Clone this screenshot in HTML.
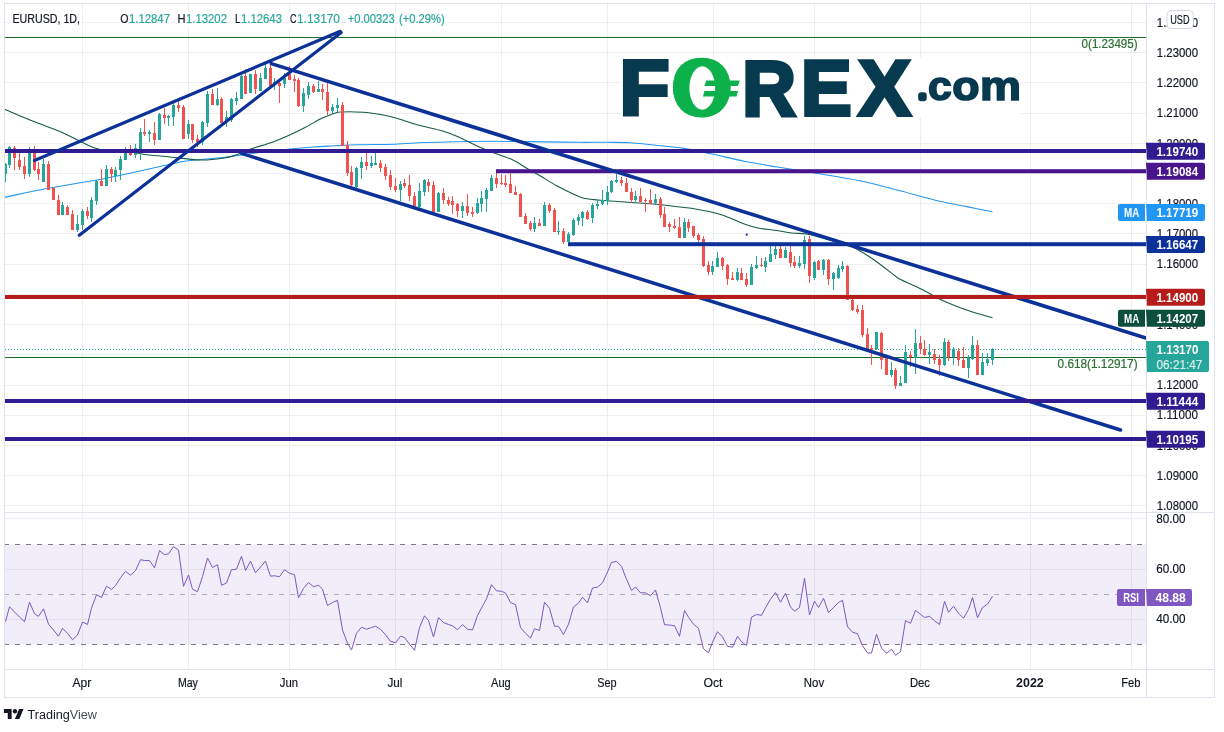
<!DOCTYPE html>
<html lang="en"><head><meta charset="utf-8"><title>EURUSD 1D chart</title>
<style>html,body{margin:0;padding:0;background:#fff;}body{width:1224px;height:732px;overflow:hidden;font-family:"Liberation Sans", sans-serif;}svg{display:block}</style>
</head><body>
<svg width="1224" height="732" viewBox="0 0 1224 732" font-family='"Liberation Sans", sans-serif' shape-rendering="auto">
<rect width="1224" height="732" fill="#fff"/>
<path d="M82.5 4V669 M188.5 4V669 M289.5 4V669 M395.5 4V669 M501.5 4V669 M607.5 4V669 M713.5 4V669 M814.5 4V669 M920.5 4V669 M1030.5 4V669 M1131.5 4V669 M4.5 22.5H1146 M4.5 52.5H1146 M4.5 82.5H1146 M4.5 113.5H1146 M4.5 143.5H1146 M4.5 173.5H1146 M4.5 203.5H1146 M4.5 233.5H1146 M4.5 264.5H1146 M4.5 294.5H1146 M4.5 324.5H1146 M4.5 354.5H1146 M4.5 385.5H1146 M4.5 415.5H1146 M4.5 445.5H1146 M4.5 475.5H1146 M4.5 505.5H1146 M4.5 518.5H1146 M4.5 569.5H1146 M4.5 619.5H1146" stroke="#eeeef1" stroke-width="1" fill="none" shape-rendering="crispEdges"/>
<rect x="4.5" y="544.5" width="1142" height="100" fill="#7e57c2" fill-opacity="0.1"/>
<path d="M4.2 544.5H1146M4.2 644.5H1146" stroke="#787b86" stroke-width="1" stroke-dasharray="5 6" fill="none" shape-rendering="crispEdges"/>
<path d="M4.2 594.5H1146" stroke="#787b86" stroke-opacity="0.55" stroke-width="1" stroke-dasharray="5 6" fill="none" shape-rendering="crispEdges"/>
<polyline points="5.5,621.7 9.5,606.7 14.5,612.0 19.5,617.0 24.5,621.7 29.5,602.2 34.5,613.7 38.5,616.3 43.5,608.8 48.5,624.2 53.5,630.0 58.5,636.2 62.5,628.3 67.5,633.3 72.5,639.7 77.5,635.0 82.5,622.0 87.5,624.5 91.5,608.3 96.5,594.7 101.5,597.5 106.5,586.2 111.5,589.5 115.5,585.5 120.5,577.8 125.5,571.3 130.5,575.3 135.5,570.5 140.5,559.7 144.5,560.5 149.5,560.5 154.5,567.8 159.5,550.5 164.5,554.7 168.5,553.8 173.5,546.7 178.5,550.0 183.5,586.3 188.5,575.0 192.5,589.2 197.5,591.7 202.5,576.7 207.5,558.0 212.5,567.5 217.5,564.7 221.5,585.3 226.5,583.0 231.5,569.7 236.5,569.2 241.5,556.2 245.5,570.5 250.5,561.2 255.5,572.8 260.5,567.0 265.5,561.2 270.5,576.2 274.5,575.8 279.5,576.7 284.5,569.7 289.5,573.3 294.5,574.7 298.5,597.8 303.5,588.3 308.5,582.5 313.5,586.7 318.5,585.3 322.5,589.2 327.5,605.5 332.5,602.5 337.5,600.3 342.5,630.0 347.5,643.3 351.5,650.0 356.5,633.3 361.5,627.2 366.5,629.2 371.5,627.5 375.5,626.2 380.5,629.2 385.5,634.7 390.5,641.3 395.5,642.8 400.5,636.2 404.5,637.5 409.5,644.2 414.5,650.3 419.5,627.5 424.5,615.8 428.5,620.5 433.5,637.0 438.5,617.5 443.5,622.5 448.5,624.5 452.5,625.8 457.5,629.7 462.5,624.7 467.5,629.2 472.5,630.0 477.5,615.5 481.5,608.0 486.5,598.8 491.5,584.7 496.5,590.8 501.5,591.3 505.5,593.0 510.5,602.5 515.5,604.7 520.5,627.5 525.5,633.3 530.5,638.0 534.5,628.8 539.5,630.5 544.5,602.2 549.5,608.3 554.5,626.2 558.5,626.3 563.5,634.5 568.5,624.2 573.5,607.0 578.5,603.0 582.5,597.2 587.5,602.8 592.5,588.0 597.5,587.2 602.5,582.8 607.5,572.0 611.5,562.5 616.5,561.3 621.5,566.3 626.5,579.2 631.5,590.5 635.5,587.0 640.5,592.8 645.5,592.8 650.5,595.8 655.5,590.0 660.5,607.8 664.5,624.7 669.5,625.0 674.5,625.8 679.5,636.3 684.5,610.5 688.5,617.2 693.5,624.2 698.5,628.3 703.5,648.8 708.5,652.8 712.5,642.2 717.5,631.7 722.5,637.0 727.5,646.3 732.5,647.2 737.5,636.3 741.5,641.7 746.5,645.5 751.5,617.2 756.5,614.5 761.5,615.3 765.5,607.8 770.5,599.2 775.5,592.5 780.5,602.2 785.5,593.3 790.5,607.0 794.5,611.2 799.5,607.5 804.5,578.3 809.5,615.0 814.5,601.2 818.5,607.5 823.5,598.3 828.5,612.5 833.5,607.5 838.5,602.5 842.5,600.3 847.5,626.7 852.5,632.2 857.5,633.7 862.5,645.8 867.5,653.0 871.5,653.0 876.5,634.2 881.5,648.0 886.5,653.3 891.5,649.2 895.5,655.3 900.5,651.7 905.5,620.5 910.5,623.3 915.5,610.5 920.5,614.3 924.5,617.5 929.5,616.3 934.5,620.8 939.5,624.5 944.5,601.3 948.5,612.2 953.5,606.2 958.5,613.2 963.5,618.3 968.5,609.5 972.5,597.5 977.5,617.8 982.5,607.5 987.5,604.2 992.5,596.3" fill="none" stroke="#7e57c2" stroke-width="1" stroke-linejoin="round"/>
<path d="M4.5 37.5H1146M4.5 357.5H1146" stroke="#1f6d2b" stroke-width="1" fill="none" shape-rendering="crispEdges"/>
<path d="M5 349.5H1146" stroke="#26a69a" stroke-width="1" stroke-dasharray="1 2" fill="none" shape-rendering="crispEdges"/>
<text x="1137.6" y="48.3" font-size="12" fill="#2b6e2f" stroke="#2b6e2f" stroke-width="0.2" text-anchor="end" textLength="56" lengthAdjust="spacingAndGlyphs">0(1.23495)</text>
<text x="1137.6" y="368.3" font-size="12" fill="#2b6e2f" stroke="#2b6e2f" stroke-width="0.2" text-anchor="end" textLength="80" lengthAdjust="spacingAndGlyphs">0.618(1.12917)</text>
<path d="M4 197.5C11.3 196.0 32.5 191.2 48 188.3C63.5 185.4 82.5 182.6 96.7 180C110.9 177.4 121.3 175.0 133 172.5C144.7 170.0 157.5 166.9 166.7 165C175.9 163.1 178.6 162.1 188 160.8C197.4 159.6 213.2 158.6 223 157.5C232.8 156.4 237.2 155.4 246.7 154.2C256.2 152.9 268.9 151.2 280 150C291.1 148.8 304.0 147.7 313 147C322.0 146.3 326.5 146.2 334 145.8C341.5 145.4 347.8 145.0 358 144.7C368.2 144.4 383.8 144.6 395 144.2C406.2 143.8 414.5 142.9 425 142.5C435.5 142.1 446.9 141.9 458 141.7C469.1 141.5 481.4 141.3 491.7 141.3C502.0 141.3 511.3 141.4 520 141.5C528.7 141.6 534.0 141.8 544 141.9C554.0 142.0 569.5 142.2 580 142.3C590.5 142.4 598.7 142.2 607 142.3C615.3 142.4 622.5 142.3 630 142.7C637.5 143.1 643.0 143.9 652 144.8C661.0 145.8 674.0 146.9 684 148.4C694.0 149.9 702.0 151.9 712 154C722.0 156.1 733.3 159.1 744 161.2C754.7 163.3 764.0 164.8 776 166.8C788.0 168.8 802.0 170.9 816 173.2C830.0 175.5 846.0 177.9 860 180.8C874.0 183.7 886.7 187.4 900 190.8C913.3 194.2 928.7 198.6 940 201.3C951.3 204.0 959.3 205.2 968 206.9C976.7 208.6 988.3 210.9 992.4 211.7" fill="none" stroke="#2196f3" stroke-width="1.1"/>
<path d="M4 109C8.3 110.8 20.7 116.2 30 120C39.3 123.8 51.2 127.8 60 131.5C68.8 135.2 75.8 139.5 82.5 142.5C89.2 145.5 92.1 147.9 100 149.5C107.9 151.1 122.2 151.1 130 152C137.8 152.9 140.4 153.9 146.7 154.7C153.0 155.5 159.1 155.8 168 156.7C176.9 157.6 190.8 159.7 200 160C209.2 160.3 216.9 159.2 223 158.3C229.1 157.4 231.7 156.4 236.7 154.7C241.7 153.0 247.2 150.3 253 148.3C258.8 146.3 265.9 144.6 271.7 142.5C277.5 140.4 282.4 138.3 288 135.8C293.6 133.3 299.4 130.4 305 127.5C310.6 124.6 317.5 120.4 321.7 118.3C325.9 116.2 327.3 116.0 330 115C332.7 114.0 334.7 112.8 338 112.2C341.3 111.7 345.2 111.7 350 111.7C354.8 111.8 361.2 112.0 366.7 112.5C372.2 113.0 378.0 114.0 383 115C388.0 116.0 390.9 116.6 396.7 118.3C402.5 120.0 410.5 122.9 418 125C425.5 127.1 435.0 128.9 441.7 130.8C448.4 132.8 452.4 134.3 458 136.7C463.6 139.1 469.2 142.4 475 145C480.8 147.6 486.7 150.0 493 152.5C499.3 155.0 507.4 157.4 513 160C518.6 162.6 522.2 165.7 526.7 168.3C531.2 170.9 535.0 172.9 540 175.8C545.0 178.7 551.4 182.9 556.7 185.8C562.0 188.7 567.3 191.3 571.7 193.3C576.1 195.3 578.6 196.9 583 198C587.4 199.1 592.7 199.4 598 200C603.3 200.6 609.4 200.9 615 201.3C620.6 201.7 625.9 202.1 631.7 202.5C637.5 202.9 644.8 203.3 650 203.7C655.2 204.1 658.0 204.4 663 205C668.0 205.6 674.4 206.3 680 207C685.6 207.7 690.4 208.1 696.7 209.2C703.0 210.3 712.0 212.0 718 213.7C724.0 215.4 728.5 217.4 733 219.2C737.5 220.9 740.8 222.7 745 224.2C749.2 225.7 753.0 227.0 758 228C763.0 229.0 769.4 229.5 775 230.3C780.6 231.1 786.2 232.3 791.7 233C797.2 233.7 801.8 233.0 808 234.2C814.2 235.4 822.0 238.1 829 240C836.0 241.9 842.9 242.8 850 245.8C857.1 248.9 864.2 253.3 871.7 258.3C879.2 263.3 890.3 272.3 895 275.8C899.7 279.3 895.5 277.0 900 279.2C904.5 281.4 915.4 286.0 921.7 289.2C928.0 292.4 932.5 295.5 938 298.3C943.5 301.1 949.4 303.6 955 305.8C960.6 308.0 965.5 309.7 971.7 311.7C978.0 313.7 989.0 316.8 992.5 317.8" fill="none" stroke="#155a48" stroke-width="1.1"/>
<path d="M13 148H16V158H13ZM14 146h1V148h-1ZM14 158h1V170h-1ZM18 160H21V167H18ZM19 153h1V160h-1ZM19 167h1V170h-1ZM23 166H26V174H23ZM24 157h1V166h-1ZM24 174h1V179h-1ZM33 151H36V170H33ZM34 146h1V151h-1ZM34 170h1V171h-1ZM37 169H40V174H37ZM38 162h1V169h-1ZM38 174h1V180h-1ZM47 164H50V190H47ZM48 161h1V164h-1ZM52 188H55V200H52ZM53 187h1V188h-1ZM57 200H60V215H57ZM58 195h1V200h-1ZM66 207H69V215H66ZM67 205h1V207h-1ZM71 214H74V230H71ZM72 210h1V214h-1ZM86 211H89V216H86ZM87 207h1V211h-1ZM87 216h1V219h-1ZM100 181H103V186H100ZM101 169h1V181h-1ZM110 169H113V174H110ZM111 167h1V169h-1ZM111 174h1V182h-1ZM129 153H132V155H129ZM130 145h1V153h-1ZM130 155h1V156h-1ZM143 132H146V134H143ZM144 119h1V132h-1ZM144 134h1V136h-1ZM153 133H156V140H153ZM154 122h1V133h-1ZM154 140h1V145h-1ZM163 115H166V118H163ZM164 108h1V115h-1ZM164 118h1V124h-1ZM177 105H180V108H177ZM178 101h1V105h-1ZM178 108h1V112h-1ZM182 107H185V139H182ZM183 105h1V107h-1ZM191 124H194V140H191ZM192 140h1V143h-1ZM196 139H199V142H196ZM197 135h1V139h-1ZM197 142h1V147h-1ZM211 94H214V105H211ZM212 89h1V94h-1ZM220 99H223V123H220ZM221 97h1V99h-1ZM244 76H247V94H244ZM245 69h1V76h-1ZM254 74H257V89H254ZM255 70h1V74h-1ZM255 89h1V94h-1ZM269 68H272V86H269ZM270 63h1V68h-1ZM278 83H281V86H278ZM279 81h1V83h-1ZM279 86h1V103h-1ZM288 74H291V80H288ZM289 66h1V74h-1ZM293 79H296V81H293ZM294 75h1V79h-1ZM294 81h1V92h-1ZM297 80H300V106H297ZM298 78h1V80h-1ZM298 106h1V107h-1ZM312 86H315V92H312ZM313 84h1V86h-1ZM313 92h1V93h-1ZM321 89H324V92H321ZM322 84h1V89h-1ZM322 92h1V100h-1ZM326 92H329V111H326ZM327 83h1V92h-1ZM327 111h1V115h-1ZM341 105H344V146H341ZM342 102h1V105h-1ZM346 145H349V173H346ZM347 141h1V145h-1ZM347 173h1V176h-1ZM350 172H353V185H350ZM351 166h1V172h-1ZM351 185h1V186h-1ZM365 162H368V166H365ZM366 153h1V162h-1ZM366 166h1V170h-1ZM379 163H382V168H379ZM380 160h1V163h-1ZM380 168h1V172h-1ZM384 167H387V176H384ZM385 164h1V167h-1ZM385 176h1V180h-1ZM389 175H392V187H389ZM390 170h1V175h-1ZM390 187h1V190h-1ZM394 186H397V190H394ZM395 178h1V186h-1ZM395 190h1V192h-1ZM403 183H406V186H403ZM404 179h1V183h-1ZM404 186h1V188h-1ZM408 185H411V196H408ZM409 175h1V185h-1ZM409 196h1V201h-1ZM413 196H416V206H413ZM414 192h1V196h-1ZM427 182H430V186H427ZM428 179h1V182h-1ZM428 186h1V192h-1ZM432 185H435V212H432ZM433 181h1V185h-1ZM442 193H445V200H442ZM443 188h1V193h-1ZM443 200h1V204h-1ZM447 200H450V204H447ZM448 197h1V200h-1ZM448 204h1V206h-1ZM451 201H454V205H451ZM452 196h1V201h-1ZM452 205h1V214h-1ZM456 204H459V211H456ZM457 203h1V204h-1ZM457 211h1V217h-1ZM466 206H469V213H466ZM467 194h1V206h-1ZM467 213h1V216h-1ZM471 212H474V214H471ZM472 207h1V212h-1ZM472 214h1V217h-1ZM495 178H498V184H495ZM496 173h1V178h-1ZM496 184h1V188h-1ZM500 183H503V184H500ZM501 174h1V183h-1ZM501 184h1V185h-1ZM504 183H507V185H504ZM505 175h1V183h-1ZM505 185h1V187h-1ZM509 184H512V193H509ZM510 173h1V184h-1ZM514 192H517V195H514ZM515 186h1V192h-1ZM519 194H522V217H519ZM520 193h1V194h-1ZM524 216H527V224H524ZM525 213h1V216h-1ZM529 223H532V229H529ZM530 221h1V223h-1ZM530 229h1V231h-1ZM538 223H541V226H538ZM539 219h1V223h-1ZM548 205H551V211H548ZM549 203h1V205h-1ZM549 211h1V213h-1ZM553 210H556V232H553ZM554 208h1V210h-1ZM562 231H565V242H562ZM563 228h1V231h-1ZM563 242h1V244h-1ZM586 212H589V219H586ZM587 210h1V212h-1ZM587 219h1V220h-1ZM620 180H623V183H620ZM621 177h1V180h-1ZM621 183h1V186h-1ZM625 183H628V192H625ZM626 178h1V183h-1ZM630 192H633V200H630ZM631 188h1V192h-1ZM631 200h1V203h-1ZM639 196H642V202H639ZM640 188h1V196h-1ZM644 200H647V201H644ZM645 198h1V200h-1ZM645 201h1V212h-1ZM649 200H652V204H649ZM650 189h1V200h-1ZM659 199H662V215H659ZM660 197h1V199h-1ZM660 215h1V218h-1ZM663 214H666V227H663ZM664 207h1V214h-1ZM668 224H671V227H668ZM669 222h1V224h-1ZM669 227h1V232h-1ZM673 226H676V228H673ZM674 219h1V226h-1ZM674 228h1V229h-1ZM678 227H681V238H678ZM679 217h1V227h-1ZM687 222H690V228H687ZM688 219h1V222h-1ZM688 228h1V232h-1ZM692 226H695V236H692ZM693 236h1V238h-1ZM697 235H700V240H697ZM698 233h1V235h-1ZM698 240h1V242h-1ZM702 239H705V266H702ZM703 236h1V239h-1ZM703 266h1V267h-1ZM707 265H710V272H707ZM708 261h1V265h-1ZM708 272h1V275h-1ZM721 258H724V266H721ZM722 257h1V258h-1ZM722 266h1V270h-1ZM726 265H729V279H726ZM727 264h1V265h-1ZM727 279h1V285h-1ZM731 278H734V280H731ZM732 272h1V278h-1ZM740 273H743V280H740ZM741 268h1V273h-1ZM745 279H748V285H745ZM746 273h1V279h-1ZM746 285h1V287h-1ZM760 265H763V266H760ZM761 258h1V265h-1ZM761 266h1V267h-1ZM779 249H782V258H779ZM780 246h1V249h-1ZM789 252H792V263H789ZM790 246h1V252h-1ZM790 263h1V267h-1ZM793 262H796V266H793ZM794 256h1V262h-1ZM794 266h1V268h-1ZM808 239H811V276H808ZM809 236h1V239h-1ZM809 276h1V283h-1ZM817 261H820V270H817ZM818 260h1V261h-1ZM827 260H830V279H827ZM828 259h1V260h-1ZM828 279h1V285h-1ZM846 266H849V300H846ZM847 265h1V266h-1ZM851 300H854V310H851ZM852 299h1V300h-1ZM852 310h1V311h-1ZM856 309H859V312H856ZM857 305h1V309h-1ZM857 312h1V314h-1ZM861 310H864V335H861ZM862 305h1V310h-1ZM862 335h1V337h-1ZM866 334H869V349H866ZM867 328h1V334h-1ZM870 348H873V350H870ZM871 345h1V348h-1ZM871 350h1V365h-1ZM880 333H883V360H880ZM881 332h1V333h-1ZM881 360h1V369h-1ZM885 358H888V375H885ZM886 357h1V358h-1ZM894 370H897V386H894ZM895 368h1V370h-1ZM895 386h1V389h-1ZM909 355H912V357H909ZM910 351h1V355h-1ZM910 357h1V367h-1ZM919 343H922V349H919ZM920 336h1V343h-1ZM920 349h1V354h-1ZM923 349H926V355H923ZM924 340h1V349h-1ZM924 355h1V356h-1ZM933 354H936V360H933ZM934 349h1V354h-1ZM934 360h1V364h-1ZM938 359H941V365H938ZM939 355h1V359h-1ZM939 365h1V376h-1ZM947 342H950V357H947ZM948 340h1V342h-1ZM948 357h1V361h-1ZM957 351H960V360H957ZM958 348h1V351h-1ZM958 360h1V366h-1ZM962 360H965V368H962ZM963 347h1V360h-1ZM976 345H979V375H976ZM977 340h1V345h-1Z" fill="#ef5350" shape-rendering="crispEdges"/>
<path d="M4 164H7V174H4ZM5 163h1V164h-1ZM5 174h1V182h-1ZM8 147H11V165H8ZM9 146h1V147h-1ZM9 165h1V168h-1ZM28 152H31V174H28ZM29 147h1V152h-1ZM29 174h1V177h-1ZM42 164H45V182H42ZM43 159h1V164h-1ZM61 205H64V215H61ZM62 202h1V205h-1ZM76 224H79V230H76ZM77 215h1V224h-1ZM77 230h1V232h-1ZM81 211H84V225H81ZM82 209h1V211h-1ZM82 225h1V230h-1ZM90 200H93V218H90ZM91 197h1V200h-1ZM91 218h1V222h-1ZM95 181H98V201H95ZM96 180h1V181h-1ZM96 201h1V205h-1ZM105 169H108V186H105ZM106 165h1V169h-1ZM114 170H117V176H114ZM115 167h1V170h-1ZM115 176h1V182h-1ZM119 159H122V170H119ZM120 156h1V159h-1ZM120 170h1V180h-1ZM124 152H127V160H124ZM125 147h1V152h-1ZM134 148H137V155H134ZM135 144h1V148h-1ZM135 155h1V158h-1ZM139 132H142V150H139ZM140 128h1V132h-1ZM140 150h1V160h-1ZM148 132H151V134H148ZM149 130h1V132h-1ZM149 134h1V142h-1ZM158 114H161V140H158ZM159 113h1V114h-1ZM167 116H170V118H167ZM168 115h1V116h-1ZM168 118h1V126h-1ZM172 105H175V117H172ZM173 103h1V105h-1ZM173 117h1V126h-1ZM187 124H190V134H187ZM188 120h1V124h-1ZM188 134h1V139h-1ZM201 122H204V142H201ZM202 121h1V122h-1ZM202 142h1V145h-1ZM206 94H209V123H206ZM207 91h1V94h-1ZM207 123h1V127h-1ZM216 99H219V105H216ZM217 88h1V99h-1ZM217 105h1V106h-1ZM225 117H228V120H225ZM226 111h1V117h-1ZM226 120h1V127h-1ZM230 99H233V120H230ZM231 98h1V99h-1ZM231 120h1V122h-1ZM235 98H238V101H235ZM236 92h1V98h-1ZM236 101h1V105h-1ZM240 76H243V99H240ZM241 75h1V76h-1ZM249 74H252V93H249ZM259 78H262V91H259ZM260 73h1V78h-1ZM264 68H267V79H264ZM265 64h1V68h-1ZM273 82H276V85H273ZM274 78h1V82h-1ZM274 85h1V90h-1ZM283 78H286V84H283ZM284 73h1V78h-1ZM284 84h1V88h-1ZM302 93H305V106H302ZM303 88h1V93h-1ZM303 106h1V112h-1ZM307 86H310V95H307ZM308 82h1V86h-1ZM308 95h1V99h-1ZM317 89H320V92H317ZM318 81h1V89h-1ZM331 107H334V111H331ZM332 104h1V107h-1ZM332 111h1V114h-1ZM336 105H339V108H336ZM337 98h1V105h-1ZM337 108h1V112h-1ZM355 168H358V187H355ZM356 167h1V168h-1ZM356 187h1V188h-1ZM360 162H363V168H360ZM361 157h1V162h-1ZM361 168h1V179h-1ZM370 163H373V166H370ZM371 156h1V163h-1ZM371 166h1V168h-1ZM374 163H377V165H374ZM375 153h1V163h-1ZM399 184H402V190H399ZM400 181h1V184h-1ZM400 190h1V201h-1ZM418 191H421V207H418ZM419 183h1V191h-1ZM419 207h1V208h-1ZM423 180H426V192H423ZM424 179h1V180h-1ZM424 192h1V196h-1ZM437 193H440V212H437ZM438 192h1V193h-1ZM461 206H464V211H461ZM462 202h1V206h-1ZM462 211h1V218h-1ZM476 203H479V213H476ZM477 198h1V203h-1ZM477 213h1V214h-1ZM480 198H483V204H480ZM481 191h1V198h-1ZM481 204h1V212h-1ZM485 190H488V199H485ZM486 188h1V190h-1ZM486 199h1V212h-1ZM490 178H493V191H490ZM491 175h1V178h-1ZM533 223H536V229H533ZM534 217h1V223h-1ZM534 229h1V232h-1ZM543 205H546V226H543ZM544 202h1V205h-1ZM557 231H560V232H557ZM558 221h1V231h-1ZM558 232h1V235h-1ZM567 234H570V242H567ZM568 232h1V234h-1ZM572 220H575V235H572ZM573 218h1V220h-1ZM573 235h1V236h-1ZM577 217H580V221H577ZM578 214h1V217h-1ZM578 221h1V225h-1ZM581 212H584V218H581ZM582 211h1V212h-1ZM582 218h1V226h-1ZM591 205H594V218H591ZM592 203h1V205h-1ZM592 218h1V223h-1ZM596 204H599V206H596ZM597 200h1V204h-1ZM597 206h1V209h-1ZM601 200H604V204H601ZM602 190h1V200h-1ZM602 204h1V205h-1ZM606 192H609V201H606ZM607 186h1V192h-1ZM607 201h1V205h-1ZM610 181H613V192H610ZM611 180h1V181h-1ZM611 192h1V193h-1ZM615 180H618V182H615ZM616 174h1V180h-1ZM616 182h1V183h-1ZM634 196H637V200H634ZM635 191h1V196h-1ZM635 200h1V202h-1ZM654 199H657V203H654ZM655 194h1V199h-1ZM655 203h1V204h-1ZM683 222H686V238H683ZM684 218h1V222h-1ZM711 266H714V272H711ZM712 261h1V266h-1ZM712 272h1V275h-1ZM716 258H719V267H716ZM717 252h1V258h-1ZM736 272H739V280H736ZM737 268h1V272h-1ZM737 280h1V281h-1ZM750 267H753V285H750ZM751 264h1V267h-1ZM755 265H758V268H755ZM756 256h1V265h-1ZM756 268h1V269h-1ZM764 261H767V267H764ZM765 257h1V261h-1ZM765 267h1V272h-1ZM769 254H772V262H769ZM770 246h1V254h-1ZM774 249H777V255H774ZM775 246h1V249h-1ZM775 255h1V259h-1ZM784 250H787V258H784ZM785 247h1V250h-1ZM798 263H801V266H798ZM799 256h1V263h-1ZM799 266h1V268h-1ZM803 240H806V264H803ZM804 236h1V240h-1ZM804 264h1V269h-1ZM813 262H816V278H813ZM814 261h1V262h-1ZM814 278h1V280h-1ZM822 260H825V270H822ZM823 259h1V260h-1ZM823 270h1V275h-1ZM832 273H835V279H832ZM833 272h1V273h-1ZM833 279h1V290h-1ZM837 268H840V278H837ZM838 265h1V268h-1ZM838 278h1V279h-1ZM841 266H844V269H841ZM842 261h1V266h-1ZM842 269h1V272h-1ZM875 332H878V349H875ZM876 349h1V350h-1ZM890 370H893V375H890ZM891 362h1V370h-1ZM891 375h1V377h-1ZM899 383H902V386H899ZM900 376h1V383h-1ZM904 352H907V383H904ZM905 345h1V352h-1ZM914 343H917V358H914ZM915 329h1V343h-1ZM915 358h1V374h-1ZM928 352H931V355H928ZM929 344h1V352h-1ZM929 355h1V364h-1ZM943 342H946V365H943ZM944 338h1V342h-1ZM944 365h1V366h-1ZM952 349H955V357H952ZM953 347h1V349h-1ZM953 357h1V365h-1ZM967 358H970V368H967ZM968 355h1V358h-1ZM968 368h1V378h-1ZM971 345H974V359H971ZM972 336h1V345h-1ZM972 359h1V360h-1ZM981 362H984V375H981ZM982 353h1V362h-1ZM986 359H989V363H986ZM987 353h1V359h-1ZM987 363h1V366h-1ZM991 349H994V360H991ZM992 348h1V349h-1ZM992 360h1V365h-1Z" fill="#26a69a" shape-rendering="crispEdges"/>
<rect x="5" y="149.0" width="1141.5" height="4" fill="#311b92"/>
<rect x="496" y="169.2" width="650.5" height="4" fill="#4a148c"/>
<rect x="568" y="242.2" width="578.5" height="4" fill="#0c3299"/>
<clipPath id="mp"><rect x="4.5" y="4" width="1141.7" height="508"/></clipPath><g clip-path="url(#mp)">
<line x1="34.5" y1="160.5" x2="340.3" y2="31.3" stroke="#0c3299" stroke-width="3.2" stroke-linecap="round"/>
<line x1="79.3" y1="235.2" x2="341.2" y2="32.6" stroke="#0c3299" stroke-width="3.2" stroke-linecap="round"/>
<line x1="271.3" y1="63.6" x2="1150" y2="339.3" stroke="#0c3299" stroke-width="3.6" stroke-linecap="round"/>
<line x1="241.5" y1="153.4" x2="1120.5" y2="430.0" stroke="#0c3299" stroke-width="3.5" stroke-linecap="round"/>
</g>
<rect x="5" y="295.0" width="1141.5" height="4" fill="#b71c1c"/>
<rect x="5" y="399.0" width="1141.5" height="4" fill="#311b92"/>
<rect x="5" y="437.0" width="1141.5" height="4" fill="#311b92"/>
<circle cx="746.7" cy="234.7" r="1.1" fill="#0c3299"/>
<rect x="11" y="11" width="70.5" height="17" fill="#fff"/>
<rect x="119" y="11" width="52.0" height="17" fill="#fff"/>
<rect x="176.4" y="11" width="51.6" height="17" fill="#fff"/>
<rect x="234" y="11" width="49.0" height="17" fill="#fff"/>
<rect x="289" y="11" width="52.0" height="17" fill="#fff"/>
<rect x="346.7" y="11" width="49.0" height="17" fill="#fff"/>
<rect x="398" y="11" width="47.7" height="17" fill="#fff"/>
<text x="12.4" y="23.4" font-size="12" fill="#131722" textLength="67.6" lengthAdjust="spacingAndGlyphs" stroke="#131722" stroke-width="0.18" >EURUSD, 1D,</text>
<text x="120.3" y="23.4" font-size="12" fill="#131722" textLength="8.2" lengthAdjust="spacingAndGlyphs" stroke="#131722" stroke-width="0.18" >O</text>
<text x="129" y="23.4" font-size="12" fill="#26a69a" textLength="41" lengthAdjust="spacingAndGlyphs" stroke="#26a69a" stroke-width="0.18" >1.12847</text>
<text x="177.4" y="23.4" font-size="12" fill="#131722" textLength="8" lengthAdjust="spacingAndGlyphs" stroke="#131722" stroke-width="0.18" >H</text>
<text x="186" y="23.4" font-size="12" fill="#26a69a" textLength="41" lengthAdjust="spacingAndGlyphs" stroke="#26a69a" stroke-width="0.18" >1.13202</text>
<text x="235" y="23.4" font-size="12" fill="#131722" textLength="5.5" lengthAdjust="spacingAndGlyphs" stroke="#131722" stroke-width="0.18" >L</text>
<text x="241" y="23.4" font-size="12" fill="#26a69a" textLength="41" lengthAdjust="spacingAndGlyphs" stroke="#26a69a" stroke-width="0.18" >1.12643</text>
<text x="290" y="23.4" font-size="12" fill="#131722" textLength="6.5" lengthAdjust="spacingAndGlyphs" stroke="#131722" stroke-width="0.18" >C</text>
<text x="297" y="23.4" font-size="12" fill="#26a69a" textLength="43" lengthAdjust="spacingAndGlyphs" stroke="#26a69a" stroke-width="0.18" >1.13170</text>
<text x="347.7" y="23.4" font-size="12" fill="#26a69a" textLength="47" lengthAdjust="spacingAndGlyphs" stroke="#26a69a" stroke-width="0.18" >+0.00323</text>
<text x="399" y="23.4" font-size="12" fill="#26a69a" textLength="45.7" lengthAdjust="spacingAndGlyphs" stroke="#26a69a" stroke-width="0.18" >(+0.29%)</text>
<rect x="620.6" y="57.6" width="399.6" height="60" fill="#fff"/>
<text transform="translate(619.62,115.46) scale(0.8196,0.7764)" font-size="100" font-weight="bold" fill="#073a4f" stroke="#073a4f" stroke-width="5">F</text>
<text transform="translate(672.14,114.31) scale(0.7592,0.7727)" font-size="100" font-weight="bold" fill="#0db14b" stroke="#0db14b" stroke-width="6">O</text>
<text transform="translate(742.13,115.46) scale(0.7429,0.7764)" font-size="100" font-weight="bold" fill="#073a4f" stroke="#073a4f" stroke-width="5">R</text>
<text transform="translate(800.96,115.46) scale(0.7590,0.7764)" font-size="100" font-weight="bold" fill="#073a4f" stroke="#073a4f" stroke-width="5">E</text>
<text transform="translate(858.54,115.46) scale(0.7808,0.7764)" font-size="100" font-weight="bold" fill="#073a4f" stroke="#073a4f" stroke-width="5">X</text>
<text transform="translate(928.05,99.98) scale(0.4264,0.4051)" font-size="100" font-weight="bold" fill="#073a4f" stroke="#073a4f" stroke-width="4">c</text>
<text transform="translate(952.21,99.98) scale(0.4474,0.4051)" font-size="100" font-weight="bold" fill="#073a4f" stroke="#073a4f" stroke-width="4">o</text>
<text transform="translate(979.99,99.80) scale(0.4613,0.4017)" font-size="100" font-weight="bold" fill="#073a4f" stroke="#073a4f" stroke-width="4">m</text>
<text x="920.3" y="98.3" font-size="16" font-weight="bold" fill="#073a4f" stroke="#073a4f" stroke-width="6.4" stroke-linejoin="round">.</text>
<ellipse cx="701.75" cy="87.65" rx="28.85" ry="29.75" fill="#0db14b"/>
<ellipse cx="702.3" cy="88" rx="12.9" ry="21.7" fill="#fff"/>
<path d="M706.3 80.6H739.7L738 85.9H704.4ZM704.4 90.9H738L736.5 96.5H703Z" fill="#0db14b"/>
<path d="M4.5 3.5H1214.5V697.5H4.5ZM1146.5 3.5V697M4.5 512.5H1214M4.5 669.5H1214" stroke="#e0e3eb" stroke-width="1" fill="none" shape-rendering="crispEdges"/>
<text x="1156.8" y="26.6" font-size="12" fill="#131722" textLength="41.2" lengthAdjust="spacingAndGlyphs" stroke="#131722" stroke-width="0.18" >1.24000</text>
<text x="1156.8" y="56.8" font-size="12" fill="#131722" textLength="41.2" lengthAdjust="spacingAndGlyphs" stroke="#131722" stroke-width="0.18" >1.23000</text>
<text x="1156.8" y="87.0" font-size="12" fill="#131722" textLength="41.2" lengthAdjust="spacingAndGlyphs" stroke="#131722" stroke-width="0.18" >1.22000</text>
<text x="1156.8" y="117.2" font-size="12" fill="#131722" textLength="41.2" lengthAdjust="spacingAndGlyphs" stroke="#131722" stroke-width="0.18" >1.21000</text>
<text x="1156.8" y="147.5" font-size="12" fill="#131722" textLength="41.2" lengthAdjust="spacingAndGlyphs" stroke="#131722" stroke-width="0.18" >1.20000</text>
<text x="1156.8" y="177.7" font-size="12" fill="#131722" textLength="41.2" lengthAdjust="spacingAndGlyphs" stroke="#131722" stroke-width="0.18" >1.19000</text>
<text x="1156.8" y="207.9" font-size="12" fill="#131722" textLength="41.2" lengthAdjust="spacingAndGlyphs" stroke="#131722" stroke-width="0.18" >1.18000</text>
<text x="1156.8" y="238.1" font-size="12" fill="#131722" textLength="41.2" lengthAdjust="spacingAndGlyphs" stroke="#131722" stroke-width="0.18" >1.17000</text>
<text x="1156.8" y="268.3" font-size="12" fill="#131722" textLength="41.2" lengthAdjust="spacingAndGlyphs" stroke="#131722" stroke-width="0.18" >1.16000</text>
<text x="1156.8" y="298.6" font-size="12" fill="#131722" textLength="41.2" lengthAdjust="spacingAndGlyphs" stroke="#131722" stroke-width="0.18" >1.15000</text>
<text x="1156.8" y="328.8" font-size="12" fill="#131722" textLength="41.2" lengthAdjust="spacingAndGlyphs" stroke="#131722" stroke-width="0.18" >1.14000</text>
<text x="1156.8" y="359.0" font-size="12" fill="#131722" textLength="41.2" lengthAdjust="spacingAndGlyphs" stroke="#131722" stroke-width="0.18" >1.13000</text>
<text x="1156.8" y="389.2" font-size="12" fill="#131722" textLength="41.2" lengthAdjust="spacingAndGlyphs" stroke="#131722" stroke-width="0.18" >1.12000</text>
<text x="1156.8" y="419.4" font-size="12" fill="#131722" textLength="41.2" lengthAdjust="spacingAndGlyphs" stroke="#131722" stroke-width="0.18" >1.11000</text>
<text x="1156.8" y="449.7" font-size="12" fill="#131722" textLength="41.2" lengthAdjust="spacingAndGlyphs" stroke="#131722" stroke-width="0.18" >1.10000</text>
<text x="1156.8" y="479.9" font-size="12" fill="#131722" textLength="41.2" lengthAdjust="spacingAndGlyphs" stroke="#131722" stroke-width="0.18" >1.09000</text>
<text x="1156.8" y="510.1" font-size="12" fill="#131722" textLength="41.2" lengthAdjust="spacingAndGlyphs" stroke="#131722" stroke-width="0.18" >1.08000</text>
<text x="1156.3" y="522.9" font-size="12" fill="#131722" textLength="29.3" lengthAdjust="spacingAndGlyphs" stroke="#131722" stroke-width="0.18" >80.00</text>
<text x="1156.3" y="573.0" font-size="12" fill="#131722" textLength="29.3" lengthAdjust="spacingAndGlyphs" stroke="#131722" stroke-width="0.18" >60.00</text>
<text x="1156.3" y="623.0" font-size="12" fill="#131722" textLength="29.3" lengthAdjust="spacingAndGlyphs" stroke="#131722" stroke-width="0.18" >40.00</text>
<rect x="1167" y="10.5" width="26.2" height="18" rx="4" fill="#fff" stroke="#d5d8e2"/>
<text x="1170.2" y="23.9" font-size="12" fill="#131722" textLength="19.4" lengthAdjust="spacingAndGlyphs" stroke="#131722" stroke-width="0.18" >USD</text>
<path d="M1146 142.8h57a2 2 0 0 1 2 2v13a2 2 0 0 1 -2 2h-56z" fill="#311b92"/>
<text x="1156.4" y="155.60000000000002" font-size="12" fill="#fff" textLength="41.8" lengthAdjust="spacingAndGlyphs" font-weight="bold" >1.19740</text>
<path d="M1146 162.8h57a2 2 0 0 1 2 2v13a2 2 0 0 1 -2 2h-56z" fill="#4a148c"/>
<text x="1156.4" y="175.60000000000002" font-size="12" fill="#fff" textLength="41.8" lengthAdjust="spacingAndGlyphs" font-weight="bold" >1.19084</text>
<path d="M1146 204.0h57a2 2 0 0 1 2 2v13a2 2 0 0 1 -2 2h-56z" fill="#2196f3"/>
<text x="1156.4" y="216.8" font-size="12" fill="#fff" textLength="41.8" lengthAdjust="spacingAndGlyphs" font-weight="bold" >1.17719</text>
<rect x="1145" y="204.0" width="1" height="17" fill="#fff"/>
<path d="M1145 204.0h-25a2 2 0 0 0 -2 2v13a2 2 0 0 0 2 2h25z" fill="#2196f3"/>
<text x="1124" y="216.8" font-size="12" fill="#fff" textLength="15.3" lengthAdjust="spacingAndGlyphs" font-weight="bold" >MA</text>
<path d="M1146 236.0h57a2 2 0 0 1 2 2v13a2 2 0 0 1 -2 2h-56z" fill="#0c3299"/>
<text x="1156.4" y="248.8" font-size="12" fill="#fff" textLength="41.8" lengthAdjust="spacingAndGlyphs" font-weight="bold" >1.16647</text>
<path d="M1146 288.8h57a2 2 0 0 1 2 2v13a2 2 0 0 1 -2 2h-56z" fill="#b71c1c"/>
<text x="1156.4" y="301.6" font-size="12" fill="#fff" textLength="41.8" lengthAdjust="spacingAndGlyphs" font-weight="bold" >1.14900</text>
<path d="M1146 309.8h57a2 2 0 0 1 2 2v13a2 2 0 0 1 -2 2h-56z" fill="#0b4f3c"/>
<text x="1156.4" y="322.6" font-size="12" fill="#fff" textLength="41.8" lengthAdjust="spacingAndGlyphs" font-weight="bold" >1.14207</text>
<rect x="1145" y="309.8" width="1" height="17" fill="#fff"/>
<path d="M1145 309.8h-25a2 2 0 0 0 -2 2v13a2 2 0 0 0 2 2h25z" fill="#0b4f3c"/>
<text x="1124" y="322.6" font-size="12" fill="#fff" textLength="15.3" lengthAdjust="spacingAndGlyphs" font-weight="bold" >MA</text>
<path d="M1146 392.8h57a2 2 0 0 1 2 2v13a2 2 0 0 1 -2 2h-56z" fill="#311b92"/>
<text x="1156.4" y="405.6" font-size="12" fill="#fff" textLength="41.8" lengthAdjust="spacingAndGlyphs" font-weight="bold" >1.11444</text>
<path d="M1146 430.8h57a2 2 0 0 1 2 2v13a2 2 0 0 1 -2 2h-56z" fill="#311b92"/>
<text x="1156.4" y="443.6" font-size="12" fill="#fff" textLength="41.8" lengthAdjust="spacingAndGlyphs" font-weight="bold" >1.10195</text>
<path d="M1146 341h61a2 2 0 0 1 2 2v27a2 2 0 0 1 -2 2h-60z" fill="#26a69a"/>
<text x="1156.6" y="354.3" font-size="12" fill="#fff" textLength="41.8" lengthAdjust="spacingAndGlyphs" font-weight="bold" >1.13170</text>
<text x="1156.6" y="368.8" font-size="12" fill="#fff" textLength="45.6" lengthAdjust="spacingAndGlyphs" stroke="#fff" stroke-width="0.18" fill-opacity="0.8" stroke-opacity="0.8">06:21:47</text>
<path d="M1146 589h44a2 2 0 0 1 2 2v13a2 2 0 0 1 -2 2h-43z" fill="#7e57c2"/>
<path d="M1145 589h-26a2 2 0 0 0 -2 2v13a2 2 0 0 0 2 2h26z" fill="#7e57c2"/>
<text x="1155.5" y="601.8" font-size="12" fill="#fff" textLength="30.3" lengthAdjust="spacingAndGlyphs" font-weight="bold" >48.88</text>
<rect x="1145" y="589" width="1" height="17" fill="#fff"/>
<text x="1123.2" y="601.8" font-size="12" fill="#fff" textLength="15.8" lengthAdjust="spacingAndGlyphs" font-weight="bold" >RSI</text>
<text x="72.5" y="687.2" font-size="12" fill="#131722" textLength="18.8" lengthAdjust="spacingAndGlyphs" stroke="#131722" stroke-width="0.18" >Apr</text>
<text x="177.9" y="687.2" font-size="12" fill="#131722" textLength="20" lengthAdjust="spacingAndGlyphs" stroke="#131722" stroke-width="0.18" >May</text>
<text x="279.8" y="687.2" font-size="12" fill="#131722" textLength="18.3" lengthAdjust="spacingAndGlyphs" stroke="#131722" stroke-width="0.18" >Jun</text>
<text x="387.4" y="687.2" font-size="12" fill="#131722" textLength="15" lengthAdjust="spacingAndGlyphs" stroke="#131722" stroke-width="0.18" >Jul</text>
<text x="491.0" y="687.2" font-size="12" fill="#131722" textLength="19.7" lengthAdjust="spacingAndGlyphs" stroke="#131722" stroke-width="0.18" >Aug</text>
<text x="597.2" y="687.2" font-size="12" fill="#131722" textLength="19.3" lengthAdjust="spacingAndGlyphs" stroke="#131722" stroke-width="0.18" >Sep</text>
<text x="703.4" y="687.2" font-size="12" fill="#131722" textLength="19" lengthAdjust="spacingAndGlyphs" stroke="#131722" stroke-width="0.18" >Oct</text>
<text x="803.8" y="687.2" font-size="12" fill="#131722" textLength="20.3" lengthAdjust="spacingAndGlyphs" stroke="#131722" stroke-width="0.18" >Nov</text>
<text x="909.9" y="687.2" font-size="12" fill="#131722" textLength="20" lengthAdjust="spacingAndGlyphs" stroke="#131722" stroke-width="0.18" >Dec</text>
<text x="1016.1" y="687.2" font-size="12" fill="#131722" textLength="27.7" lengthAdjust="spacingAndGlyphs" font-weight="bold" >2022</text>
<text x="1121.2" y="687.2" font-size="12" fill="#131722" textLength="19.3" lengthAdjust="spacingAndGlyphs" stroke="#131722" stroke-width="0.18" >Feb</text>
<g transform="translate(3.9,706.9) scale(0.552)" fill="#131722"><path d="M14 22H7V11H0V4h14v18zM28 22h-8l7.5-18h8L28 22z"/><circle cx="20" cy="8" r="4"/></g>
<text x="27.5" y="718.6" font-size="12.5" fill="#131722" textLength="69.5" lengthAdjust="spacingAndGlyphs">Trading<tspan fill="#4a4e59">View</tspan></text>
</svg>
</body></html>
